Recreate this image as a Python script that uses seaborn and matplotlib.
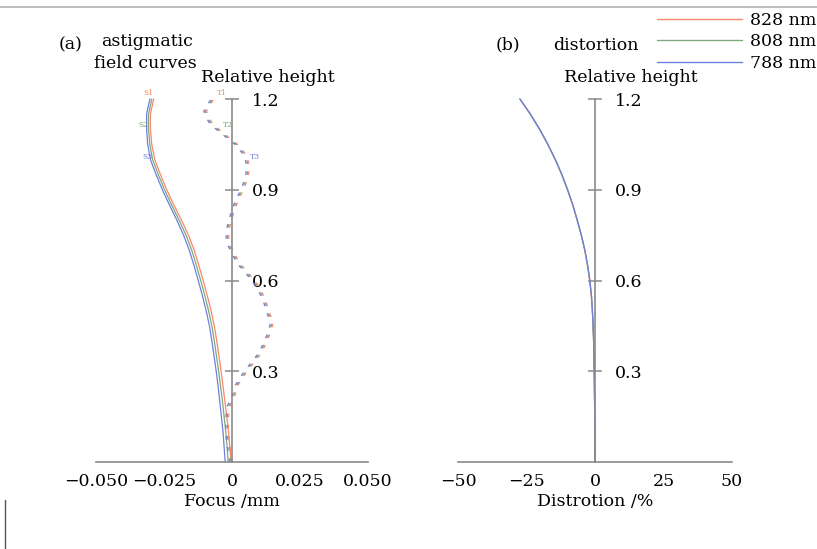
import numpy as np
import pandas as pd
import matplotlib
matplotlib.use("Agg")
import matplotlib.pyplot as plt
from matplotlib.lines import Line2D
import seaborn as sns

# ---------------- data ----------------
wavelengths = ["828 nm", "808 nm", "788 nm"]
colors = ["#f9876a", "#7fa87f", "#6f80dd"]

# sagittal field curves (S), relative height vs focus (mm)
s_height = [0.00, 0.05, 0.10, 0.15, 0.20, 0.25, 0.30, 0.35, 0.40, 0.45, 0.50, 0.55,
            0.60, 0.65, 0.70, 0.75, 0.80, 0.85, 0.90, 0.95, 1.00, 1.05, 1.10, 1.15, 1.20]
s_828 = [-0.0003, -0.0008, -0.0013, -0.0019, -0.0026, -0.0033, -0.0040, -0.0048, -0.0056,
         -0.0065, -0.0077, -0.0091, -0.0106, -0.0122, -0.0139, -0.0160, -0.0186, -0.0214,
         -0.0240, -0.0263, -0.0284, -0.0295, -0.0300, -0.0300, -0.0288]
s_808 = [-0.0014, -0.0018, -0.0023, -0.0029, -0.0035, -0.0042, -0.0049, -0.0057, -0.0065,
         -0.0074, -0.0086, -0.0100, -0.0115, -0.0131, -0.0148, -0.0169, -0.0195, -0.0222,
         -0.0248, -0.0271, -0.0292, -0.0302, -0.0307, -0.0307, -0.0295]
s_788 = [-0.0025, -0.0029, -0.0033, -0.0039, -0.0045, -0.0051, -0.0058, -0.0066, -0.0074,
         -0.0083, -0.0095, -0.0109, -0.0124, -0.0140, -0.0157, -0.0178, -0.0203, -0.0230,
         -0.0256, -0.0279, -0.0300, -0.0310, -0.0314, -0.0314, -0.0302]

# tangential field curves (T)
t_height = [0.00, 0.066, 0.10, 0.14, 0.18, 0.215, 0.255, 0.28, 0.31, 0.347, 0.38, 0.417,
            0.46, 0.496, 0.529, 0.579, 0.625, 0.658, 0.691, 0.724, 0.76, 0.80, 0.84, 0.873,
            0.899, 0.942, 0.982, 1.015, 1.048, 1.074, 1.098, 1.124, 1.16, 1.197]
t_828 = [0.0001, -0.0010, -0.0013, -0.0013, -0.0010, 0.0009, 0.0023, 0.0040, 0.0064, 0.0097,
         0.0119, 0.0137, 0.0152, 0.0137, 0.0126, 0.0101, 0.0060, 0.0027, 0.0009, -0.0010,
         -0.0013, -0.0002, 0.0012, 0.0027, 0.0042, 0.0060, 0.0064, 0.0053, 0.0023, -0.0013,
         -0.0046, -0.0076, -0.0094, -0.0069]
t_808 = [-0.0004, -0.0015, -0.0018, -0.0018, -0.0015, 0.0004, 0.0018, 0.0035, 0.0059, 0.0092,
         0.0114, 0.0132, 0.0147, 0.0132, 0.0121, 0.0096, 0.0055, 0.0022, 0.0004, -0.0015,
         -0.0018, -0.0007, 0.0007, 0.0022, 0.0037, 0.0055, 0.0059, 0.0048, 0.0018, -0.0018,
         -0.0051, -0.0081, -0.0099, -0.0074]
t_788 = [-0.0009, -0.0020, -0.0023, -0.0023, -0.0020, -0.0001, 0.0013, 0.0030, 0.0054, 0.0087,
         0.0109, 0.0127, 0.0142, 0.0127, 0.0116, 0.0091, 0.0050, 0.0017, -0.0001, -0.0020,
         -0.0023, -0.0012, 0.0002, 0.0017, 0.0032, 0.0050, 0.0054, 0.0043, 0.0013, -0.0023,
         -0.0056, -0.0086, -0.0104, -0.0079]

# distortion (%)
d_height = [0.0, 0.1, 0.2, 0.3, 0.4, 0.45, 0.5, 0.55, 0.6, 0.65, 0.7, 0.75, 0.8, 0.85,
            0.9, 0.95, 1.0, 1.05, 1.1, 1.15, 1.2]
d_828 = [0.0, -0.05, -0.15, -0.30, -0.52, -0.72, -0.98, -1.35, -1.95, -2.75, -3.75, -5.05,
         -6.55, -8.15, -10.05, -12.15, -14.55, -17.25, -20.25, -23.65, -27.45]
d_808 = [0.0, -0.05, -0.15, -0.30, -0.50, -0.70, -0.95, -1.30, -1.90, -2.70, -3.70, -5.00,
         -6.50, -8.10, -10.00, -12.10, -14.50, -17.20, -20.20, -23.60, -27.40]
d_788 = [0.0, -0.05, -0.15, -0.30, -0.49, -0.69, -0.94, -1.28, -1.88, -2.68, -3.68, -4.98,
         -6.48, -8.08, -9.98, -12.08, -14.48, -17.18, -20.18, -23.58, -27.38]

focus_ticks = [-0.05, -0.025, 0, 0.025, 0.05]
focus_labels = ["\u22120.050", "\u22120.025", "0", "0.025", "0.050"]
dist_ticks = [-50, -25, 0, 25, 50]
dist_labels = ["\u221250", "\u221225", "0", "25", "50"]
height_ticks = [0.3, 0.6, 0.9, 1.2]
height_labels = ["0.3", "0.6", "0.9", "1.2"]

# ---------------- style ----------------
sns.set_theme(style="white")
plt.rcParams["font.family"] = ["DejaVu Serif"]
plt.rcParams["text.color"] = "black"
plt.rcParams["axes.labelcolor"] = "black"
plt.rcParams["axes.unicode_minus"] = True

W, H = 817, 549
fig = plt.figure(figsize=(W / 100, H / 100), dpi=100)

def fx(px):
    return px / W

def fy(py):
    return 1 - py / H

ax1 = fig.add_axes([fx(96), fy(462), fx(368) - fx(96), fy(99) - fy(462)])
ax2 = fig.add_axes([fx(458), fy(462), fx(732) - fx(458), fy(99) - fy(462)])

axis_gray = "#8a8a8a"
FS = 12.5

def style_axes(ax, xlim, xticks, xlabels, xlabel):
    ax.set_xlim(*xlim)
    ax.set_ylim(0, 1.2)
    for s in ["top", "left"]:
        ax.spines[s].set_visible(False)
    ax.spines["bottom"].set_color(axis_gray)
    ax.spines["bottom"].set_linewidth(1.2)
    ax.spines["right"].set_position(("data", 0))
    ax.spines["right"].set_color(axis_gray)
    ax.spines["right"].set_linewidth(1.2)
    ax.yaxis.tick_right()
    ax.set_xticks(xticks)
    ax.set_xticklabels(xlabels)
    ax.set_yticks(height_ticks)
    ax.set_yticklabels(height_labels)
    ax.tick_params(axis="x", direction="in", length=8, width=1.1, color=axis_gray,
                   labelsize=FS, pad=8, labelcolor="black")
    ax.tick_params(axis="y", direction="inout", length=10, width=1.1, color=axis_gray,
                   labelsize=FS, pad=9, labelcolor="black")
    ax.set_xlabel(xlabel, fontsize=FS, labelpad=2, color="black")
    ax.set_ylabel("")
    ax.grid(False)
    ax.set_facecolor("none")

# ---- left panel: astigmatic field curves ----
for vals, c in zip([s_828, s_808, s_788], colors):
    df = pd.DataFrame({"focus": vals, "height": s_height})
    sns.lineplot(data=df, x="focus", y="height", sort=False, estimator=None,
                 color=c, linewidth=0.9, ax=ax1, clip_on=False)
for vals, c in zip([t_828, t_808, t_788], colors):
    df = pd.DataFrame({"focus": vals, "height": t_height})
    sns.lineplot(data=df, x="focus", y="height", sort=False, estimator=None,
                 color=c, linewidth=0.9, linestyle=(0, (3, 6)), ax=ax1, clip_on=False)

style_axes(ax1, (-0.05, 0.05), focus_ticks, focus_labels, "Focus /mm")

lab_fs = 5.5
ax1.text(-0.0309, 1.22, "S1", color=colors[0], fontsize=lab_fs, ha="center", va="center")
ax1.text(-0.0327, 1.114, "S2", color=colors[1], fontsize=lab_fs, ha="center", va="center")
ax1.text(-0.0312, 1.008, "S3", color=colors[2], fontsize=lab_fs, ha="center", va="center")
ax1.text(-0.0037, 1.22, "T1", color=colors[0], fontsize=lab_fs, ha="center", va="center")
ax1.text(-0.0015, 1.114, "T2", color=colors[1], fontsize=lab_fs, ha="center", va="center")
ax1.text(0.0083, 1.008, "T3", color=colors[2], fontsize=lab_fs, ha="center", va="center")

# ---- right panel: distortion ----
for vals, c, lab in zip([d_828, d_808, d_788], colors, wavelengths):
    df = pd.DataFrame({"dist": vals, "height": d_height})
    sns.lineplot(data=df, x="dist", y="height", sort=False, estimator=None,
                 color=c, linewidth=0.9, ax=ax2, label=lab, clip_on=False)

style_axes(ax2, (-50, 50), dist_ticks, dist_labels, "Distrotion /%")
ax2.get_legend().remove()

# legend at top right
handles = [Line2D([0], [0], color=c, linewidth=1.0) for c in colors]
fig.legend(handles, wavelengths, loc="upper right", bbox_to_anchor=(fx(816), fy(12)),
           frameon=False, fontsize=FS, handlelength=4.9, handletextpad=0.45,
           labelspacing=0.25, borderaxespad=0, borderpad=0)

# titles / annotations
fig.text(fx(71), fy(45), "(a)", fontsize=FS, ha="center", va="center")
fig.text(fx(147), fy(42), "astigmatic", fontsize=FS, ha="center", va="center")
fig.text(fx(145), fy(63), "field curves", fontsize=FS, ha="center", va="center")
fig.text(fx(508), fy(45), "(b)", fontsize=FS, ha="center", va="center")
fig.text(fx(596), fy(45), "distortion", fontsize=FS, ha="center", va="center")
fig.text(fx(268), fy(78), "Relative height", fontsize=FS, ha="center", va="center")
fig.text(fx(631), fy(78), "Relative height", fontsize=FS, ha="center", va="center")

# frame artifacts from the original image
fig.add_artist(Line2D([0, 1], [fy(7), fy(7)], color="#bdbdbd", linewidth=1.5,
                      transform=fig.transFigure))
fig.add_artist(Line2D([fx(5), fx(5)], [fy(500), 0], color="#555555", linewidth=1.0,
                      transform=fig.transFigure))

fig.savefig("out.png", dpi=100, facecolor="white")
